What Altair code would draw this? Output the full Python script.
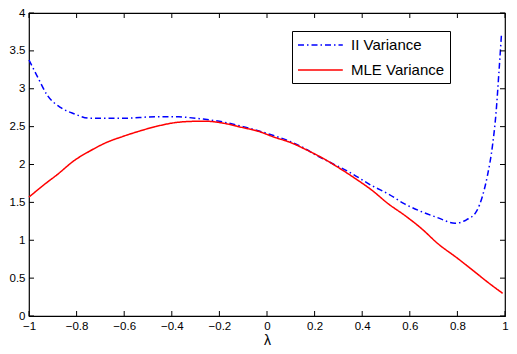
import altair as alt
import pandas as pd

# ---- data ----
ii_x = [-1.0, -0.963, -0.922, -0.866, -0.811, -0.743, -0.6, -0.47, -0.37, -0.33, -0.27, -0.2,
        -0.1, 0.0, 0.1, 0.154, 0.208, 0.264, 0.346, 0.441, 0.51, 0.578, 0.647, 0.715, 0.79,
        0.838, 0.88, 0.906, 0.926, 0.947, 0.962, 0.975, 0.985]
ii_y = [3.38, 3.15, 2.91, 2.75, 2.67, 2.61, 2.61, 2.63, 2.63, 2.62, 2.60, 2.57,
        2.50, 2.41, 2.30, 2.22, 2.12, 2.03, 1.90, 1.72, 1.61, 1.48, 1.38, 1.30, 1.225,
        1.27, 1.38, 1.59, 1.85, 2.24, 2.67, 3.24, 3.71]

mle_x = [-1.0, -0.934, -0.88, -0.811, -0.743, -0.675, -0.606, -0.537, -0.469, -0.38, -0.3,
         -0.25, -0.175, -0.106, -0.038, 0.031, 0.099, 0.168, 0.236, 0.305, 0.373, 0.441,
         0.51, 0.578, 0.647, 0.72, 0.797, 0.866, 0.934, 0.99]
mle_y = [1.57, 1.74, 1.87, 2.05, 2.18, 2.29, 2.37, 2.44, 2.50, 2.555, 2.57,
         2.57, 2.54, 2.49, 2.44, 2.36, 2.29, 2.19, 2.08, 1.95, 1.81, 1.66,
         1.48, 1.33, 1.16, 0.95, 0.77, 0.60, 0.43, 0.30]

series_names = ["II Variance", "MLE Variance"]
x_ticks = [-1, -0.8, -0.6, -0.4, -0.2, 0, 0.2, 0.4, 0.6, 0.8, 1]
y_ticks = [0, 0.5, 1, 1.5, 2, 2.5, 3, 3.5, 4]

df = pd.concat([
    pd.DataFrame({"x": ii_x, "y": ii_y, "series": series_names[0]}),
    pd.DataFrame({"x": mle_x, "y": mle_y, "series": series_names[1]}),
])

W, H = 476, 303
XMIN, XMAX, YMIN, YMAX = -1, 1, 0, 4
TICK = 5  # px, inward tick length
dx = TICK * (XMAX - XMIN) / W
dy = TICK * (YMAX - YMIN) / H

rows = []
for t in x_ticks:
    rows.append({"x": t, "x2": t, "y": YMIN, "y2": YMIN + dy})
    rows.append({"x": t, "x2": t, "y": YMAX, "y2": YMAX - dy})
for t in y_ticks:
    rows.append({"x": XMIN, "x2": XMIN + dx, "y": t, "y2": t})
    rows.append({"x": XMAX, "x2": XMAX - dx, "y": t, "y2": t})
ticks_df = pd.DataFrame(rows)

FONT = "Liberation Sans"

xscale = alt.Scale(domain=[XMIN, XMAX], nice=False, zero=False)
yscale = alt.Scale(domain=[YMIN, YMAX], nice=False, zero=False)
xaxis = alt.Axis(values=x_ticks, title="λ", format=".1~f", ticks=False, domain=False,
                 grid=False, labelFontSize=11.5, labelPadding=4, labelColor="black",
                 titleFontSize=14, titleFontWeight="normal", titlePadding=2,
                 titleColor="black", labelFlush=False)
yaxis = alt.Axis(values=y_ticks, title=None, format=".1~f", ticks=False, domain=False,
                 grid=False, labelFontSize=11.5, labelPadding=4, labelColor="black")

# symbol laid out as a 16px box, drawn as a 45px horizontal stroke
leg = alt.Legend(title=None, orient="none", legendX=263, legendY=18,
                 strokeColor="black", fillColor="white", padding=5,
                 symbolType="M-1,0H4.6", symbolSize=256, symbolStrokeWidth=1.5,
                 symbolFillColor="transparent",
                 labelFontSize=15, labelOffset=36, rowPadding=8, labelFont=FONT,
                 labelColor="black", cornerRadius=0)

lines = alt.Chart(df).mark_line(strokeWidth=1.5, interpolate="monotone").encode(
    x=alt.X("x:Q", scale=xscale, axis=xaxis),
    y=alt.Y("y:Q", scale=yscale, axis=yaxis),
    color=alt.Color("series:N", scale=alt.Scale(domain=series_names,
                                                range=["#0000ff", "#ff0000"]), legend=leg),
    strokeDash=alt.StrokeDash("series:N", scale=alt.Scale(domain=series_names,
                                                          range=[[6, 3, 1.5, 3], [1, 0]]),
                              legend=leg),
)

tick_marks = alt.Chart(ticks_df).mark_rule(color="black", strokeWidth=1).encode(
    x=alt.X("x:Q", scale=xscale, axis=xaxis),
    x2="x2:Q",
    y=alt.Y("y:Q", scale=yscale, axis=yaxis),
    y2="y2:Q",
)

chart = alt.layer(lines, tick_marks).properties(
    width=W, height=H,
    autosize=alt.AutoSizeParams(type="none"),
    padding={"left": 21, "top": 5, "right": 4, "bottom": 36},
    background="white",
).configure_view(stroke="black", strokeWidth=1.2).configure_axis(
    labelFont=FONT, titleFont=FONT
)

chart.save("out.html", embed_options={"renderer": "svg", "actions": False})
